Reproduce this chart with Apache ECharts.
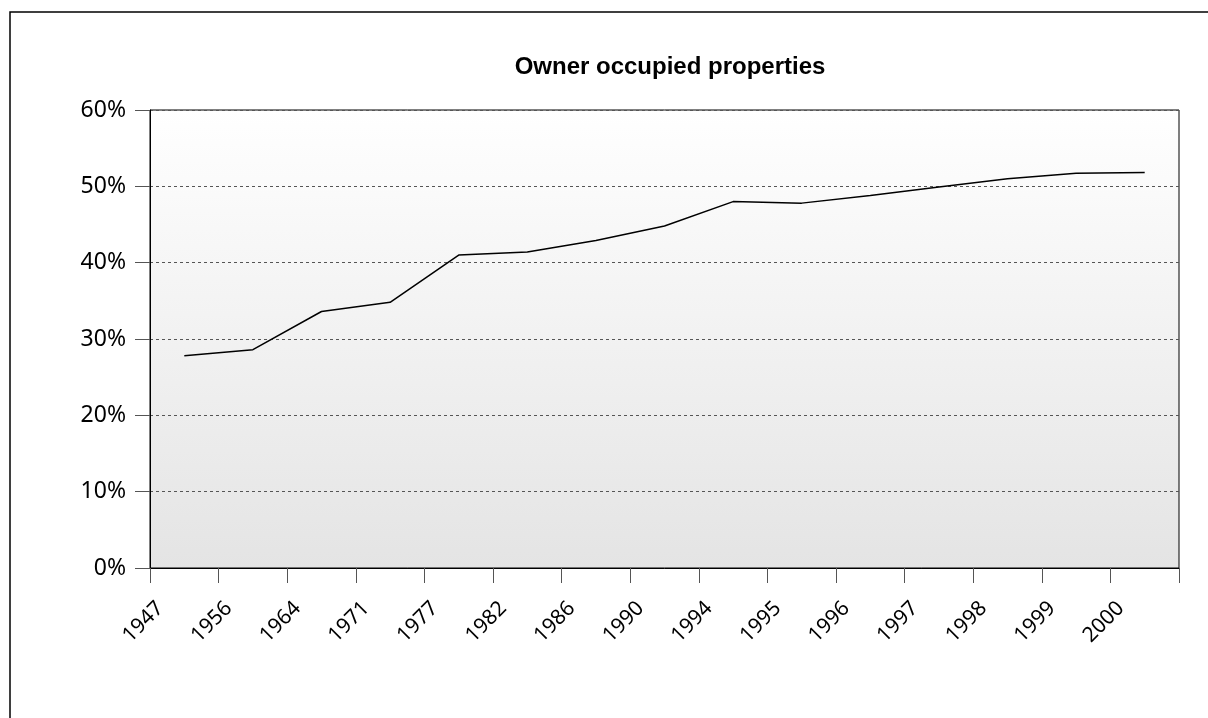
<!DOCTYPE html>
<html>
<head>
<meta charset="utf-8">
<script src="https://cdn.jsdelivr.net/npm/echarts@6/dist/echarts.min.js"></script>
<style>
html,body{margin:0;padding:0;background:#fff;}
#chart{width:1208px;height:718px;}
</style>
</head>
<body>
<div id="chart"></div>
<script>
var title = 'Owner occupied properties';
var years = ['1947','1956','1964','1971','1977','1982','1986','1990','1994','1995','1996','1997','1998','1999','2000'];
var ownerOccupied = [27.8, 28.6, 33.6, 34.8, 41.0, 41.4, 42.9, 44.8, 48.0, 47.8, 48.8, 49.9, 51.0, 51.7, 51.8];
var yTicks = [0, 10, 20, 30, 40, 50, 60];

var chart = echarts.init(document.getElementById('chart'), null, {renderer: 'canvas'});
var labelFont = 'Noto Sans';
chart.setOption({
  animation: false,
  backgroundColor: '#ffffff',
  title: {
    text: title,
    left: 665,
    textAlign: 'center',
    top: 50,
    textStyle: {fontFamily: 'Liberation Sans', fontWeight: 'bold', fontSize: 24, color: '#000'}
  },
  graphic: [{
    type: 'rect',
    shape: {x: 10, y: 12, width: 1250, height: 760},
    style: {fill: 'none', stroke: '#000', lineWidth: 1.5},
    silent: true, z: -10
  }],
  grid: {
    left: 150, right: 29, top: 110, bottom: 150,
    show: true,
    borderColor: '#000',
    borderWidth: 1,
    backgroundColor: new echarts.graphic.LinearGradient(0, 0, 0, 1, [
      {offset: 0, color: '#ffffff'},
      {offset: 1, color: '#e4e4e4'}
    ])
  },
  xAxis: {
    type: 'category',
    data: years,
    boundaryGap: true,
    axisLine: {show: true, lineStyle: {color: '#000', width: 1}},
    axisTick: {show: true, length: 15, lineStyle: {color: '#555'}},
    axisLabel: {
      rotate: 45,
      interval: 0,
      margin: 13,
      padding: [0, 34, 0, 0],
      color: '#000',
      fontFamily: labelFont,
      fontSize: 21
    },
    splitLine: {show: false}
  },
  yAxis: {
    type: 'value',
    min: yTicks[0],
    max: yTicks[yTicks.length - 1],
    interval: 10,
    axisLine: {show: true, lineStyle: {color: '#000'}},
    axisTick: {show: true, length: 15, lineStyle: {color: '#555'}},
    axisLabel: {
      formatter: '{value}%',
      margin: 24,
      color: '#000',
      fontFamily: labelFont,
      fontSize: 23
    },
    splitLine: {show: true, lineStyle: {color: '#555', type: [3, 3], width: 1}}
  },
  series: [{
    type: 'line',
    data: ownerOccupied,
    symbol: 'none',
    lineStyle: {color: '#000', width: 1.5},
    z: 5
  }]
});
</script>
</body>
</html>
